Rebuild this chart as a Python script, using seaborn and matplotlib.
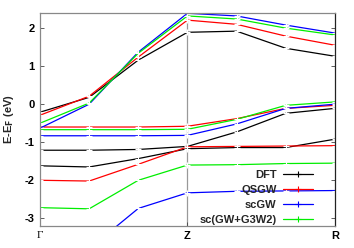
import numpy as np
import pandas as pd
import seaborn as sns
import matplotlib.pyplot as plt
from matplotlib.lines import Line2D

# k-path: 7 points, Gamma -> Z -> R
kpts = [0, 1, 2, 3, 4, 5, 6]
tick_pos = [0, 3, 6]
tick_labels = ['Γ', 'Z', 'R']

methods = ['DFT', 'QSGW', 'scGW', 'sc(GW+G3W2)']
colors = ['#000000', '#ff0000', '#0000ff', '#00ee00']

# bands (eV)
dft_bands = [
    [-0.21, 0.18, 1.16, 1.89, 1.92, 1.47, 1.26],
    [-1.21, -1.21, -1.19, -1.11, -0.73, -0.24, -0.11],
    [-1.62, -1.65, -1.43, -1.17, -1.14, -1.14, -0.92],
]
qsgw_bands = [
    [-0.29, 0.21, 1.24, 2.21, 2.10, 1.79, 1.55],
    [-0.60, -0.60, -0.60, -0.58, -0.38, -0.11, -0.03],
    [-2.00, -2.02, -1.58, -1.12, -1.11, -1.10, -1.09],
]
scgw_bands = [
    [-0.63, 0.00, 1.37, 2.39, 2.32, 2.08, 1.87],
    [-0.83, -0.83, -0.83, -0.82, -0.52, -0.11, 0.00],
    [-3.80, -3.80, -2.74, -2.33, -2.29, -2.28, -2.27],
]
g3w2_bands = [
    [-0.50, 0.03, 1.34, 2.32, 2.24, 2.00, 1.82],
    [-0.67, -0.67, -0.67, -0.66, -0.40, -0.03, 0.06],
    [-2.72, -2.75, -2.00, -1.60, -1.59, -1.56, -1.55],
]

rows = []
for m, bands in zip(methods, [dft_bands, qsgw_bands, scgw_bands, g3w2_bands]):
    for b, vals in enumerate(bands):
        for k, e in zip(kpts, vals):
            rows.append({'k': k, 'E': e, 'method': m, 'band': b})
df = pd.DataFrame(rows)

sns.set_style('ticks')
plt.rcParams['font.family'] = ['Liberation Sans', 'DejaVu Sans']

fig = plt.figure(figsize=(3.54, 2.48), dpi=100)
ax = fig.add_axes([0.113, 0.089, 0.833, 0.859])

ax.axvline(3, color='#999999', lw=0.9, zorder=0)

sns.lineplot(data=df, x='k', y='E', hue='method', units='band', estimator=None,
             palette=dict(zip(methods, colors)), hue_order=methods,
             marker='+', markersize=4, markeredgewidth=0.8, lw=0.9,
             legend=False, ax=ax, clip_on=True)

ax.set_xlim(0, 6)
ax.set_ylim(-3.2, 2.4)
ax.set_yticks([-3, -2, -1, 0, 1, 2])
ax.set_yticklabels(['-3', '-2', '-1', '0', '1', '2'], fontweight='bold', fontsize=8)
ax.set_xticks(tick_pos)
ax.set_xticklabels(tick_labels, fontsize=8, fontweight='bold')
ax.get_xticklabels()[0].set_fontweight('normal')
ax.get_xticklabels()[0].set_family('Liberation Serif')
ax.tick_params(direction='in', length=3, width=0.6, right=True, pad=4,
               colors='#444444', labelcolor='black')
ax.set_xlabel('')
ax.set_ylabel(r'E-E$_{\mathbf{F}}$ (eV)', fontweight='bold', fontsize=8, labelpad=6)

for s in ['left', 'top', 'bottom']:
    ax.spines[s].set_color('#888888')
ax.spines['right'].set_color('#222222')
for s in ax.spines.values():
    s.set_linewidth(0.9)

handles = [Line2D([], [], color=c, lw=0.9, marker='+', markersize=4,
                  markeredgewidth=0.8) for c in colors]
leg = ax.legend(handles, methods, loc='lower right', markerfirst=False,
                frameon=False, prop={'weight': 'bold', 'size': 8},
                handlelength=2.7, handletextpad=0.6, labelspacing=0.45,
                borderaxespad=0.3, bbox_to_anchor=(0.953, -0.033))

plt.savefig('out.png', dpi=100)
